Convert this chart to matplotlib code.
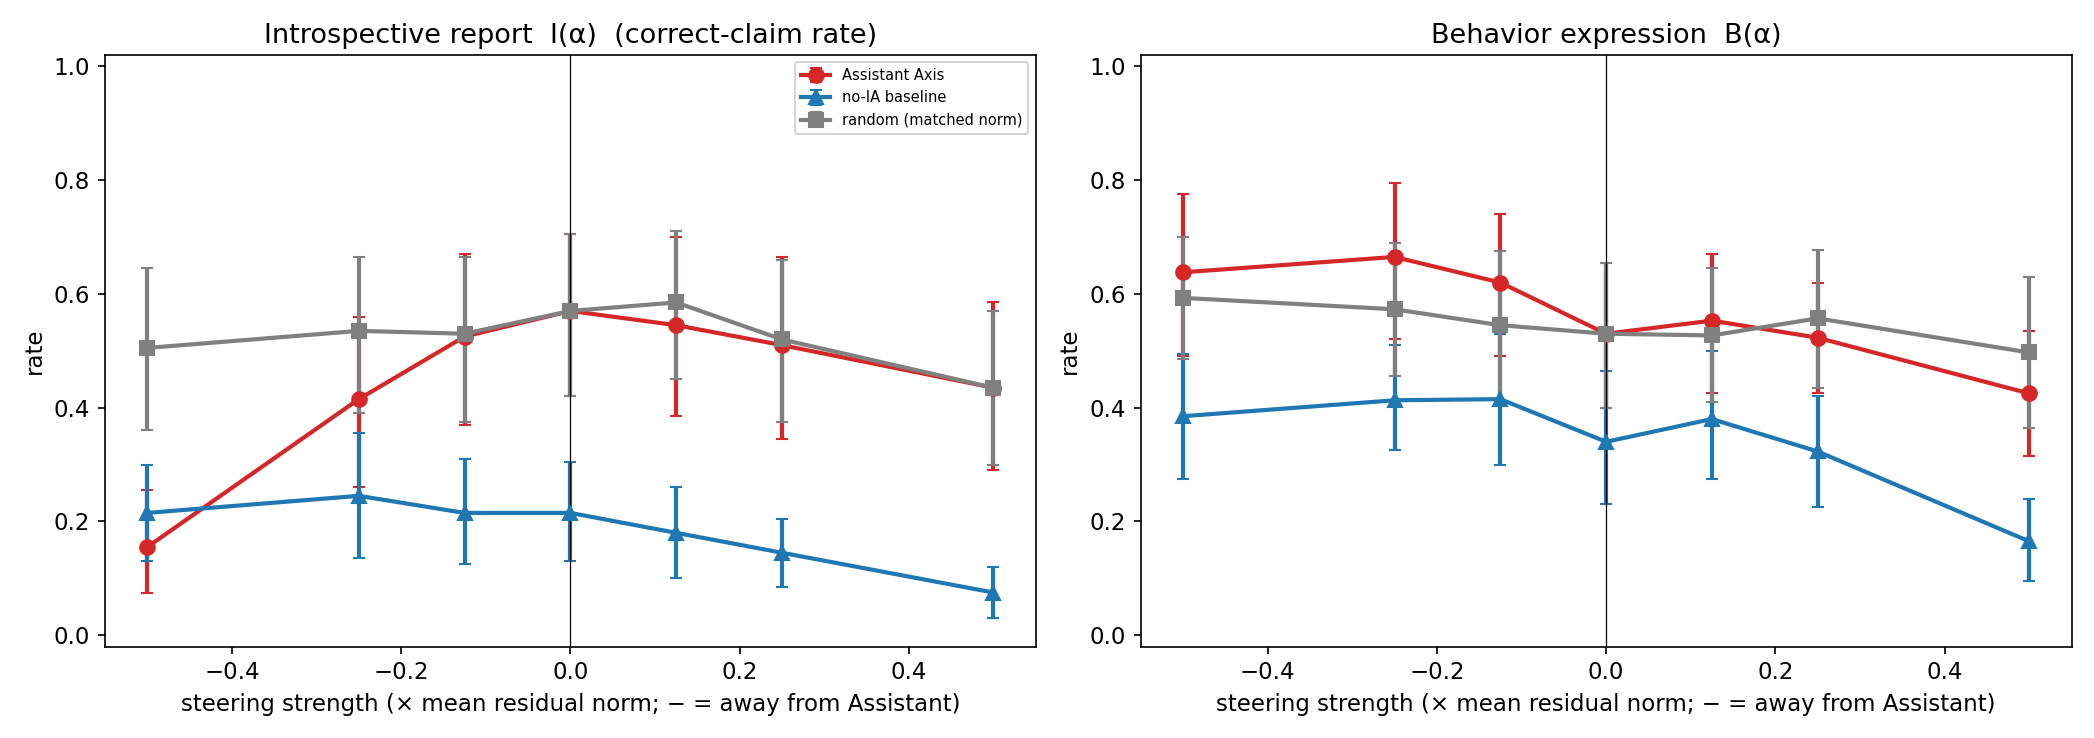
import matplotlib
matplotlib.use("Agg")
import matplotlib.pyplot as plt
import numpy as np

alphas = [-0.5, -0.25, -0.125, 0.0, 0.125, 0.25, 0.5]

# left panel: introspective report
intro_aa = [0.155, 0.415, 0.525, 0.57, 0.545, 0.51, 0.435]
intro_aa_lo = [0.075, 0.26, 0.37, 0.42, 0.385, 0.345, 0.29]
intro_aa_hi = [0.255, 0.56, 0.67, 0.705, 0.70, 0.665, 0.585]
intro_noia = [0.215, 0.245, 0.215, 0.215, 0.18, 0.145, 0.075]
intro_noia_lo = [0.13, 0.135, 0.125, 0.13, 0.10, 0.085, 0.03]
intro_noia_hi = [0.30, 0.355, 0.31, 0.305, 0.26, 0.205, 0.12]
intro_rand = [0.505, 0.535, 0.53, 0.57, 0.585, 0.52, 0.435]
intro_rand_lo = [0.36, 0.39, 0.375, 0.42, 0.45, 0.375, 0.30]
intro_rand_hi = [0.645, 0.665, 0.665, 0.705, 0.71, 0.66, 0.57]

# right panel: behavior expression
beh_aa = [0.638, 0.665, 0.62, 0.53, 0.553, 0.523, 0.425]
beh_aa_lo = [0.49, 0.52, 0.49, 0.40, 0.425, 0.425, 0.315]
beh_aa_hi = [0.775, 0.795, 0.74, 0.655, 0.67, 0.62, 0.535]
beh_noia = [0.385, 0.413, 0.415, 0.34, 0.38, 0.323, 0.165]
beh_noia_lo = [0.275, 0.325, 0.30, 0.23, 0.275, 0.225, 0.095]
beh_noia_hi = [0.495, 0.51, 0.53, 0.465, 0.50, 0.42, 0.24]
beh_rand = [0.593, 0.573, 0.545, 0.53, 0.527, 0.557, 0.497]
beh_rand_lo = [0.485, 0.455, 0.41, 0.40, 0.41, 0.435, 0.365]
beh_rand_hi = [0.70, 0.69, 0.675, 0.655, 0.645, 0.678, 0.63]


def draw(ax, y, lo, hi, color, marker, label):
    y = np.array(y)
    err = [y - np.array(lo), np.array(hi) - y]
    ax.errorbar(alphas, y, yerr=err, color=color, marker=marker, markersize=7,
                linewidth=2, capsize=3, elinewidth=2, label=label)


fig, axes = plt.subplots(1, 2, figsize=(13.96, 4.92), dpi=150)

ax = axes[0]
draw(ax, intro_aa, intro_aa_lo, intro_aa_hi, '#d62728', 'o', 'Assistant Axis')
draw(ax, intro_noia, intro_noia_lo, intro_noia_hi, '#1f77b4', '^', 'no-IA baseline')
draw(ax, intro_rand, intro_rand_lo, intro_rand_hi, 'gray', 's', 'random (matched norm)')
ax.set_title('Introspective report  I(α)  (correct-claim rate)', fontsize=13)
ax.legend(fontsize=7, loc='upper right')

ax = axes[1]
draw(ax, beh_aa, beh_aa_lo, beh_aa_hi, '#d62728', 'o', 'Assistant Axis')
draw(ax, beh_noia, beh_noia_lo, beh_noia_hi, '#1f77b4', '^', 'no-IA baseline')
draw(ax, beh_rand, beh_rand_lo, beh_rand_hi, 'gray', 's', 'random (matched norm)')
ax.set_title('Behavior expression  B(α)', fontsize=13)

for ax in axes:
    ax.axvline(0, color='black', linewidth=0.6)
    ax.set_ylim(-0.02, 1.02)
    ax.set_ylabel('rate', fontsize=11)
    ax.set_xlabel('steering strength (× mean residual norm; − = away from Assistant)', fontsize=11)
    ax.tick_params(labelsize=11)

plt.tight_layout()
plt.savefig('out.png', dpi=150)
